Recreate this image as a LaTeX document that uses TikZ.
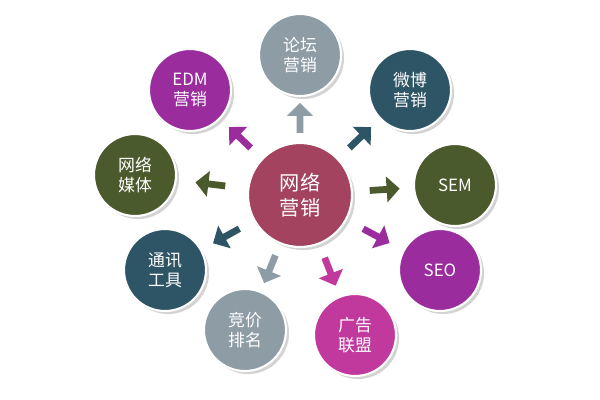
\documentclass[tikz,border=0pt]{standalone}
\usepackage{fontspec}
\newfontfamily\cjk{Noto Sans CJK SC}
\usetikzlibrary{shapes.arrows, shadows}
\definecolor{hub}{HTML}{A3435F}
\definecolor{grayb}{HTML}{8E9CA6}
\definecolor{teal}{HTML}{2E5566}
\definecolor{olive}{HTML}{4B5A2C}
\definecolor{purp}{HTML}{9A2C9E}
\definecolor{mage}{HTML}{C2399E}
\begin{document}
\begin{tikzpicture}[x=0.025cm, y=-0.025cm, font=\cjk\bfseries]
        \tikzstyle{ball} = [circle, minimum size=2.05cm, align=center, text=white, draw=white, line width=1.5pt, drop shadow={opacity=0.35}, font=\cjk\large]
        \tikzstyle{hubball} = [ball, minimum size=2.6cm, fill=hub, font=\cjk\Large]
        \tikzstyle{blockarrow} = [single arrow, minimum height=0.75cm, minimum width=0.65cm, single arrow head extend=0.12cm, inner sep=1pt, sloped, allow upside down]
        \useasboundingbox (0,0) rectangle (600,400);

        \node (NET) [hubball] at (300,195) {网络\\营销};
        \node (BBS) [ball, fill=grayb] at (300,55) {论坛\\营销};
        \node (WEIBO) [ball, fill=teal] at (410,90) {微博\\营销};
        \node (SEM) [ball, fill=olive] at (455,185) {SEM};
        \node (SEO) [ball, fill=purp] at (440,270) {SEO};
        \node (ADS) [ball, fill=mage] at (355,335) {广告\\联盟};
        \node (BID) [ball, fill=grayb] at (245,330) {竞价\\排名};
        \node (IM) [ball, fill=teal] at (165,270) {通讯\\工具};
        \node (MEDIA) [ball, fill=olive] at (135,175) {网络\\媒体};
        \node (EDM) [ball, fill=purp] at (190,90) {EDM\\营销};

        \path (NET) -- (BBS) node[blockarrow, pos=0.5, fill=grayb]{};
        \path (NET) -- (WEIBO) node[blockarrow, pos=0.5, fill=teal]{};
        \path (NET) -- (SEM) node[blockarrow, pos=0.5, fill=olive]{};
        \path (NET) -- (SEO) node[blockarrow, pos=0.5, fill=purp]{};
        \path (NET) -- (ADS) node[blockarrow, pos=0.5, fill=mage]{};
        \path (NET) -- (BID) node[blockarrow, pos=0.5, fill=grayb]{};
        \path (NET) -- (IM) node[blockarrow, pos=0.5, fill=teal]{};
        \path (NET) -- (MEDIA) node[blockarrow, pos=0.5, fill=olive]{};
        \path (NET) -- (EDM) node[blockarrow, pos=0.5, fill=purp]{};
\end{tikzpicture}
\end{document}
